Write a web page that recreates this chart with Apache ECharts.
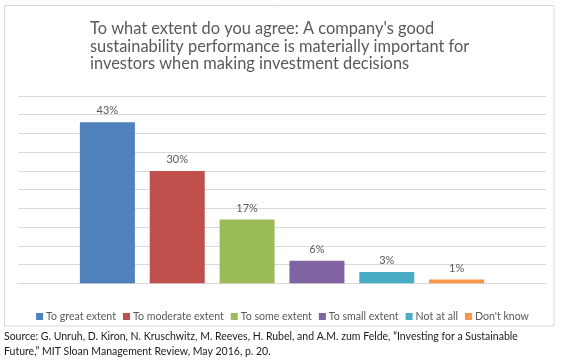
<!DOCTYPE html>
<html>
<head>
<meta charset="utf-8">
<script src="https://cdn.jsdelivr.net/npm/echarts@6/dist/echarts.min.js"></script>
<style>
html,body{margin:0;padding:0;background:#fff;}
#chart{width:565px;height:362px;}
</style>
</head>
<body>
<div id="chart"></div>
<script>
var titleText = "To what extent do you agree: A company's good\nsustainability performance is materially important for\ninvestors when making investment decisions";
var seriesNames = ["To great extent", "To moderate extent", "To some extent", "To small extent", "Not at all", "Don't know"];
var seriesValues = [43, 30, 17, 6, 3, 1];
var seriesColors = ["#4F81BD", "#C0504D", "#9BBB59", "#8064A2", "#4BACC6", "#F79646"];
var categories = [""];
var sourceText = "Source: G. Unruh, D. Kiron, N. Kruschwitz, M. Reeves, H. Rubel, and A.M. zum Felde, \u201cInvesting for a Sustainable\nFuture,\u201d MIT Sloan Management Review, May 2016, p. 20.";

var FONT = "Lato, 'Liberation Sans', sans-serif";
var chart = echarts.init(document.getElementById('chart'), null, {renderer: 'canvas'});

var series = seriesNames.map(function (name, i) {
  return {
    name: name,
    type: 'bar',
    data: [seriesValues[i]],
    barWidth: 55,
    barGap: '27%',
    itemStyle: {color: seriesColors[i]},
    label: {
      show: true,
      position: 'top',
      distance: 6,
      formatter: '{c}%',
      color: '#595959',
      fontSize: 11,
      fontFamily: FONT
    }
  };
});

chart.setOption({
  backgroundColor: '#ffffff',
  animation: false,
  title: {
    text: titleText,
    left: 85,
    top: 15,
    textStyle: {
      color: '#595959',
      fontSize: 16.4,
      fontWeight: 'normal',
      lineHeight: 17.5,
      fontFamily: FONT
    }
  },
  legend: {
    data: seriesNames,
    left: 'center',
    top: 306,
    icon: 'rect',
    itemWidth: 7,
    itemHeight: 7,
    itemGap: 7,
    textStyle: {color: '#595959', fontSize: 10.6, fontFamily: FONT, padding: [0, 0, 0, -2]}
  },
  grid: {left: 18, right: 19, top: 96, bottom: 78.7},
  xAxis: {
    type: 'category',
    data: categories,
    axisLine: {show: true, lineStyle: {color: '#d9d9d9'}},
    axisTick: {show: false},
    axisLabel: {show: false}
  },
  yAxis: {
    type: 'value',
    min: 0,
    max: 50,
    interval: 5,
    axisLine: {show: false},
    axisTick: {show: false},
    axisLabel: {show: false},
    splitLine: {lineStyle: {color: '#d9d9d9', width: 1}}
  },
  series: series,
  graphic: [
    {
      type: 'rect',
      shape: {x: 4.5, y: 5.5, width: 549.5, height: 320.5},
      style: {fill: 'none', stroke: '#d9d9d9', lineWidth: 1},
      silent: true,
      z: -1
    },
    {
      type: 'text',
      left: 4,
      top: 329,
      style: {
        text: sourceText,
        fill: '#1a1a1a',
        fontSize: 10.5,
        lineHeight: 15,
        fontFamily: FONT
      }
    }
  ]
});
</script>
</body>
</html>
